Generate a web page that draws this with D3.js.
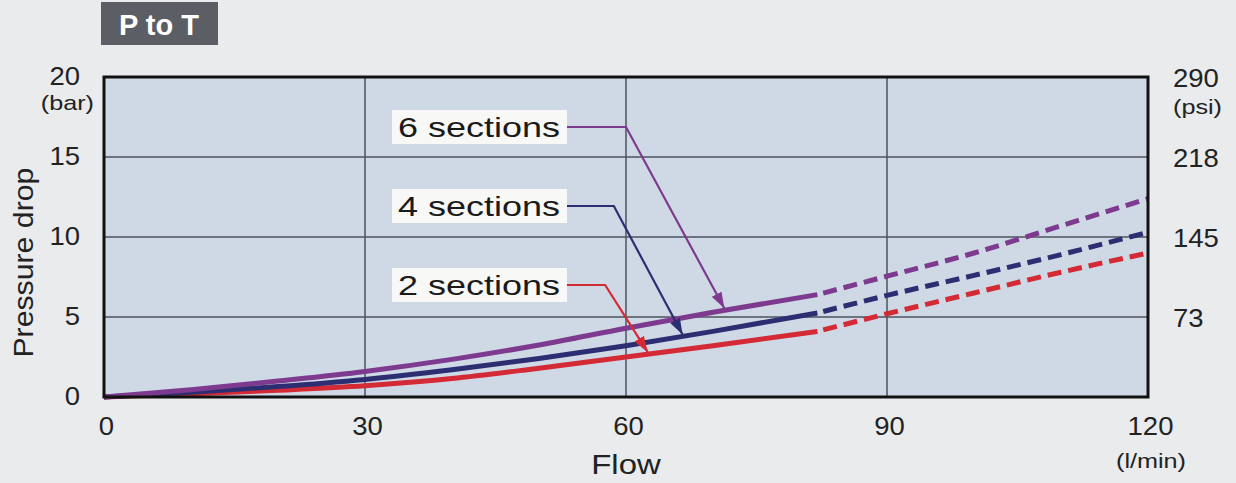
<!DOCTYPE html>
<html>
<head>
<meta charset="utf-8">
<script src="https://cdn.jsdelivr.net/npm/d3@7"></script>
<style>
  body { margin: 0; background: #e9ebec; }
  svg { display: block; font-family: "Liberation Sans", Arial, sans-serif; }
</style>
</head>
<body>
<svg id="chart"></svg>
<script>
// pressure drop P to T

var xTicks = [0, 30, 60, 90, 120];
var yTicks = [0, 5, 10, 15, 20];
var psiTicks = ['', '73', '145', '218', '290'];

// [flow l/min, pressure bar]
var six = [[0,0],[10,0.45],[20,1.0],[30,1.6],[40,2.35],[50,3.25],[60,4.3],[70,5.3],[82,6.4]];
var sixDash = [[82,6.4],[90,7.55],[100,9.0],[110,10.7],[120,12.4]];
var four = [[0,0],[10,0.3],[20,0.65],[30,1.1],[40,1.7],[50,2.4],[60,3.2],[70,4.1],[82,5.25]];
var fourDash = [[82,5.25],[90,6.35],[100,7.6],[110,8.9],[120,10.3]];
var two = [[0,0],[10,0.2],[20,0.42],[30,0.7],[40,1.15],[50,1.8],[60,2.5],[70,3.2],[82,4.1]];
var twoDash = [[82,4.1],[90,5.2],[100,6.5],[110,7.8],[120,9.0]];

var seriesNames = ['6 sections', '4 sections', '2 sections'];
var seriesColors = ['#7d3a8e', '#2d2e72', '#d42a35'];

var width = 1236, height = 483;
var margin = {left: 104, right: 88, top: 77, bottom: 86};

var svg = d3.select('#chart').attr('width', width).attr('height', height);

var xScale = d3.scaleLinear().domain([0, 120]).range([margin.left, width - margin.right]);
var yScale = d3.scaleLinear().domain([0, 20]).range([height - margin.bottom, margin.top]);

// the source lettering is a bit wider than Liberation Sans
function stretch(sel, k){
    sel.each(function(){
        var w = this.getComputedTextLength();
        d3.select(this).attr('textLength', w * k).attr('lengthAdjust', 'spacingAndGlyphs');
    });
}

// title tag
svg.append('rect')
    .attr('x', 101).attr('y', 2).attr('width', 117).attr('height', 43)
    .attr('fill', '#5b5e64');
svg.append('text')
    .attr('x', 159).attr('y', 35)
    .attr('text-anchor', 'middle')
    .attr('fill', 'white')
    .style('font-size', '29px').style('font-weight', 'bold')
    .text('P to T');

// plot background
svg.append('rect')
    .attr('x', xScale(0)).attr('y', yScale(20))
    .attr('width', xScale(120) - xScale(0))
    .attr('height', yScale(0) - yScale(20))
    .attr('fill', '#cfd9e6');

// grid
svg.append('g').selectAll('line').data(xTicks.slice(1, -1)).join('line')
    .attr('x1', d => xScale(d)).attr('x2', d => xScale(d))
    .attr('y1', yScale(0)).attr('y2', yScale(20))
    .attr('stroke', '#4d525c').attr('stroke-width', 1.5);
svg.append('g').selectAll('line').data(yTicks.slice(1, -1)).join('line')
    .attr('y1', d => yScale(d)).attr('y2', d => yScale(d))
    .attr('x1', xScale(0)).attr('x2', xScale(120))
    .attr('stroke', '#4d525c').attr('stroke-width', 1.5);

// axes (text only, box drawn separately)
var yAxisL = d3.axisLeft(yScale).tickValues(yTicks).tickSize(0).tickPadding(24);
var yAxisR = d3.axisRight(yScale).tickValues(yTicks).tickSize(0).tickPadding(25)
    .tickFormat((d, i) => psiTicks[i]);
var xAxis = d3.axisBottom(xScale).tickValues(xTicks).tickSize(0).tickPadding(20);

var gL = svg.append('g').attr('transform', `translate(${xScale(0)},-1)`).call(yAxisL);
var gR = svg.append('g').attr('transform', `translate(${xScale(120)},1)`).call(yAxisR);
var gX = svg.append('g').attr('transform', `translate(2,${yScale(0)})`).call(xAxis);

[gL, gR, gX].forEach(function(g){
    g.select('.domain').remove();
    g.selectAll('text').style('font-size', '25px').attr('fill', '#222')
        .style('font-family', '"Liberation Sans", Arial, sans-serif');
    stretch(g.selectAll('text'), 1.1);
});

// unit labels
var units = svg.append('g').attr('fill', '#222').style('font-size', '21px');
units.append('text').attr('x', 94).attr('y', 110).attr('text-anchor', 'end').text('(bar)');
units.append('text').attr('x', 1173).attr('y', 114).text('(psi)');
units.append('text').attr('x', 1151).attr('y', 468).attr('text-anchor', 'middle').text('(l/min)');
stretch(units.selectAll('text'), 1.2);

var flowLabel = svg.append('text').attr('x', xScale(60)).attr('y', 474).attr('text-anchor', 'middle')
    .style('font-size', '27px').attr('fill', '#222').text('Flow');
stretch(flowLabel, 1.22);
var pLabel = svg.append('text')
    .attr('transform', `translate(33, ${yScale(8.4)}) rotate(-90)`)
    .attr('text-anchor', 'middle')
    .style('font-size', '28px').attr('fill', '#222').text('Pressure drop');
stretch(pLabel, 1.08);

// curves
var line = d3.line().x(d => xScale(d[0])).y(d => yScale(d[1])).curve(d3.curveMonotoneX);
var solids = [six, four, two];
var dashes = [sixDash, fourDash, twoDash];

for (var i = 2; i >= 0; i--) {
    svg.append('path').attr('d', line(solids[i]))
        .attr('fill', 'none').attr('stroke', seriesColors[i]).attr('stroke-width', 5);
    svg.append('path').attr('d', line(dashes[i]))
        .attr('fill', 'none').attr('stroke', seriesColors[i]).attr('stroke-width', 5)
        .attr('stroke-dasharray', '14,7').attr('stroke-dashoffset', -6);
}

// frame
svg.append('rect')
    .attr('x', xScale(0)).attr('y', yScale(20))
    .attr('width', xScale(120) - xScale(0))
    .attr('height', yScale(0) - yScale(20))
    .attr('fill', 'none').attr('stroke', '#111').attr('stroke-width', 3);

// callouts: label box, elbow, arrow tip on the curve
var labelY = [127, 206, 285];
var elbowFlow = [60, 58.6, 57.6];
var tipFlow = [71.3, 66.5, 62.5];

var defs = svg.append('defs');
seriesColors.forEach(function(c, i){
    defs.append('marker')
        .attr('id', 'arrow' + i)
        .attr('viewBox', '0 0 10 10')
        .attr('refX', 10).attr('refY', 5)
        .attr('markerWidth', 16).attr('markerHeight', 11)
        .attr('markerUnits', 'userSpaceOnUse')
        .attr('orient', 'auto')
        .attr('preserveAspectRatio', 'none')
        .append('path').attr('d', 'M0,0 L10,5 L0,10 Z').attr('fill', c);
});

function valueAt(pts, f){
    for (var k = 1; k < pts.length; k++) {
        if (f <= pts[k][0]) {
            var a = pts[k-1], b = pts[k];
            return a[1] + (b[1] - a[1]) * (f - a[0]) / (b[0] - a[0]);
        }
    }
    return pts[pts.length-1][1];
}

seriesNames.forEach(function(name, i){
    var ly = labelY[i];
    svg.append('rect')
        .attr('x', 392).attr('y', ly - 17).attr('width', 175).attr('height', 34)
        .attr('fill', '#f8f8f6');
    var t = svg.append('text')
        .attr('x', 398).attr('y', ly + 10)
        .style('font-size', '28px').attr('fill', '#1a1a1a')
        .text(name);
    t.attr('textLength', 162).attr('lengthAdjust', 'spacingAndGlyphs');
    var ex = xScale(elbowFlow[i]);
    var tx = xScale(tipFlow[i]);
    var ty = yScale(valueAt(solids[i], tipFlow[i])) - 2;
    svg.append('polyline')
        .attr('points', `567,${ly} ${ex},${ly} ${tx},${ty}`)
        .attr('fill', 'none').attr('stroke', seriesColors[i]).attr('stroke-width', 2.2)
        .attr('marker-end', `url(#arrow${i})`);
});
</script>
</body>
</html>
